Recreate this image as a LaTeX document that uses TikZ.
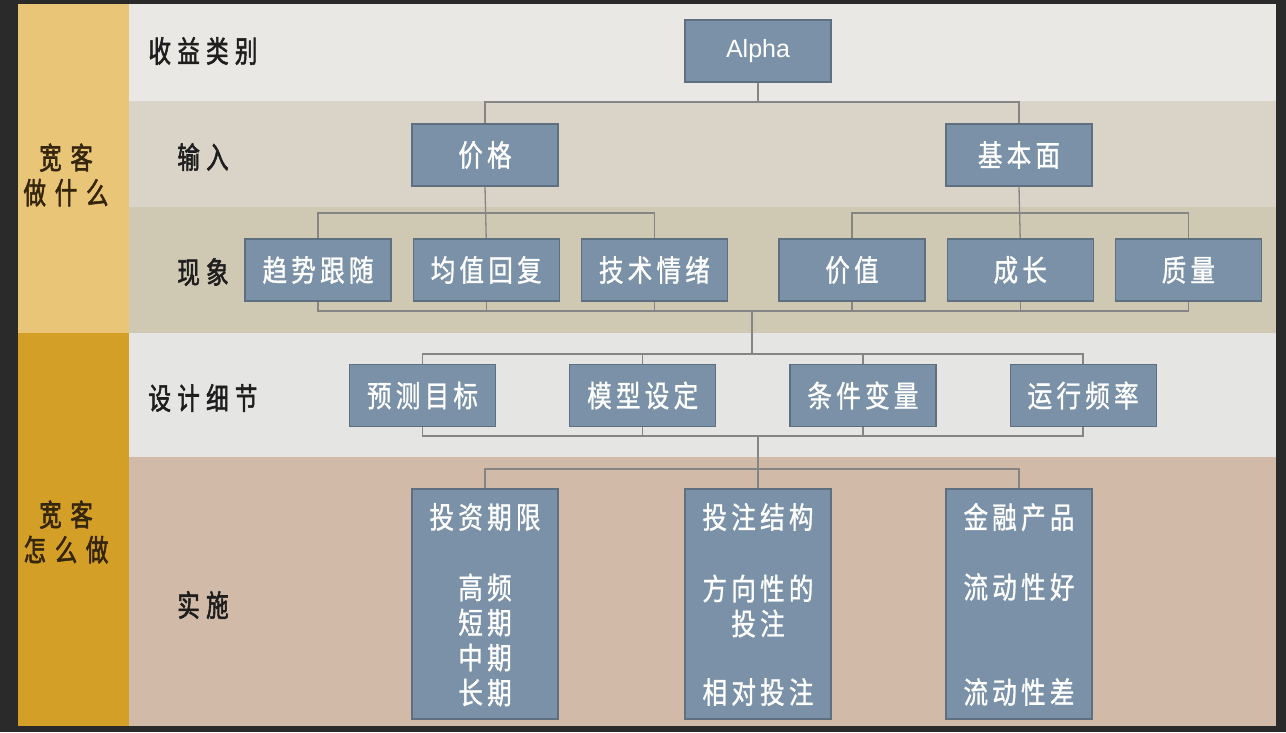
\documentclass[tikz,border=0pt]{standalone}
\usepackage{fontspec}
\setmainfont{Liberation Sans}
\newfontfamily\cjkbox[FakeStretch=0.82,LetterSpace=14,FakeBold=1.0]{Noto Sans CJK SC}
\newfontfamily\cjklabel[FakeStretch=0.75,LetterSpace=21,FakeBold=1.8]{Noto Sans CJK SC}
\newfontfamily\cjkside[FakeStretch=0.75,LetterSpace=29,FakeBold=1.8]{Noto Sans CJK SC}
\usepackage{xcolor}
\usepackage{tikz}
\usetikzlibrary{positioning}
\definecolor{framedark}{HTML}{2A2A2A}
\definecolor{sideA}{HTML}{E9C677}
\definecolor{sideB}{HTML}{D49F26}
\definecolor{bandA}{HTML}{E9E8E4}
\definecolor{bandB}{HTML}{DAD4C8}
\definecolor{bandC}{HTML}{CFC9B3}
\definecolor{bandD}{HTML}{E5E5E4}
\definecolor{bandE}{HTML}{D1BBA8}
\definecolor{boxfill}{HTML}{7A91A7}
\definecolor{boxline}{HTML}{5E6F80}
\definecolor{linkgray}{HTML}{858585}
\definecolor{labelink}{HTML}{1E1E1E}
\definecolor{sideink}{HTML}{35250C}
\tikzset{
  box/.style={rectangle, draw=boxline, fill=boxfill, line width=1.2pt, minimum width=146pt, minimum height=62pt, inner sep=0pt, align=center, text=white, font=\cjkbox\fontsize{30}{35}\selectfont},
  tallbox/.style={box, minimum height=230pt},
  boxtext/.style={inner sep=0pt, align=center, text=white, font=\cjkbox\fontsize{30}{35}\selectfont},
  rowlabel/.style={inner sep=0pt, text=labelink, font=\cjklabel\fontsize{30}{34}\selectfont},
  sidelabel/.style={inner sep=0pt, align=center, text=sideink, font=\cjkside\fontsize{30}{35}\selectfont},
  link/.style={draw=linkgray, line width=1.3pt}
}

\begin{document}
\begin{tikzpicture}[x=1pt, y=-1pt]
  \useasboundingbox (0,0) rectangle (1286,732);
  \fill[framedark] (0,0) rectangle (1286,732);
  % bands
  \fill[bandA] (129,4) rectangle (1276,101);
  \fill[bandB] (129,101) rectangle (1276,207);
  \fill[bandC] (129,207) rectangle (1276,333);
  \fill[bandD] (129,333) rectangle (1276,457);
  \fill[bandE] (129,457) rectangle (1276,726);
  \fill[sideA] (18,4) rectangle (129,333);
  \fill[sideB] (18,333) rectangle (129,726);

  \node[sidelabel] (whatlabel) at (66,175) {宽客\\做什么};
  \node[sidelabel] (howlabel) at (66,532) {宽客\\怎么做};
  \node[rowlabel] (kindlabel) at (203,51) {收益类别};
  \node[rowlabel] (inputlabel) at (203,157) {输入};
  \node[rowlabel] (effectlabel) at (203,272) {现象};
  \node[rowlabel] (designlabel) at (203,398) {设计细节};
  \node[rowlabel] (implabel) at (203,605) {实施};

  % bus points
  \coordinate (bus1) at (758,102);
  \coordinate (bus2a) at (485,213);
  \coordinate (bus2b) at (1019,213);
  \coordinate (bus3) at (752,311);
  \coordinate (bus4) at (752,354);
  \coordinate (bus5) at (758,436);
  \coordinate (bus6) at (758,469);

  \node[box, font=\fontsize{25}{28}\selectfont] (alpha) at (758,51) {Alpha};
  \node[box] (price) at (485,155) {价格};
  \node[box] (fund) at (1019,155) {基本面};

  \node[box] (trend) at (318,270) {趋势跟随};
  \node[box, right=21pt of trend] (meanrev) {均值回复};
  \node[box, right=21pt of meanrev] (tech) {技术情绪};
  \node[box] (value) at (852,270) {价值};
  \node[box, right=21pt of value] (growth) {成长};
  \node[box, right=21pt of growth] (quality) {质量};

  \node[box] (predict) at (422.5,395.5) {预测目标};
  \node[box, right=73pt of predict] (model) {模型设定};
  \node[box, right=73pt of model] (cond) {条件变量};
  \node[box, right=73pt of cond] (freq) {运行频率};

  \node[tallbox] (horizon) at (485,604) {};
  \node[tallbox] (structure) at (758,604) {};
  \node[tallbox] (product) at (1019,604) {};
  \node[boxtext] (horizonhead) at (485,517) {投资期限};
  \node[boxtext] (horizonlist) at (485,640) {高频\\短期\\中期\\长期};
  \node[boxtext] (structurehead) at (758,517) {投注结构};
  \node[boxtext] (structuredir) at (758,606) {方向性的\\投注};
  \node[boxtext] (structurerel) at (758,692) {相对投注};
  \node[boxtext] (producthead) at (1019,517) {金融产品};
  \node[boxtext] (productgood) at (1019,587) {流动性好};
  \node[boxtext] (productpoor) at (1019,692) {流动性差};

  % connectors
  \draw[link] (alpha.south) -- (bus1);
  \draw[link] (price.north) |- (bus1) -| (fund.north);
  \draw[link] (trend.north) |- (bus2a) -| (tech.north);
  \draw[link] (price.south) -- (meanrev.north);
  \draw[link] (value.north) |- (bus2b) -| (quality.north);
  \draw[link] (fund.south) -- (growth.north);
  \draw[link] (trend.south) |- (quality.south |- bus3) -- (quality.south);
  \draw[link] (meanrev.south) -- (meanrev.south |- bus3);
  \draw[link] (tech.south) -- (tech.south |- bus3);
  \draw[link] (value.south) -- (value.south |- bus3);
  \draw[link] (growth.south) -- (growth.south |- bus3);
  \draw[link] (bus3) -- (bus4);
  \draw[link] (predict.north) |- (freq.north |- bus4) -- (freq.north);
  \draw[link] (model.north) -- (model.north |- bus4);
  \draw[link] (cond.north) -- (cond.north |- bus4);
  \draw[link] (predict.south) |- (freq.south |- bus5) -- (freq.south);
  \draw[link] (model.south) -- (model.south |- bus5);
  \draw[link] (cond.south) -- (cond.south |- bus5);
  \draw[link] (bus5) -- (structure.north);
  \draw[link] (horizon.north) |- (bus6) -| (product.north);
\end{tikzpicture}
\end{document}
